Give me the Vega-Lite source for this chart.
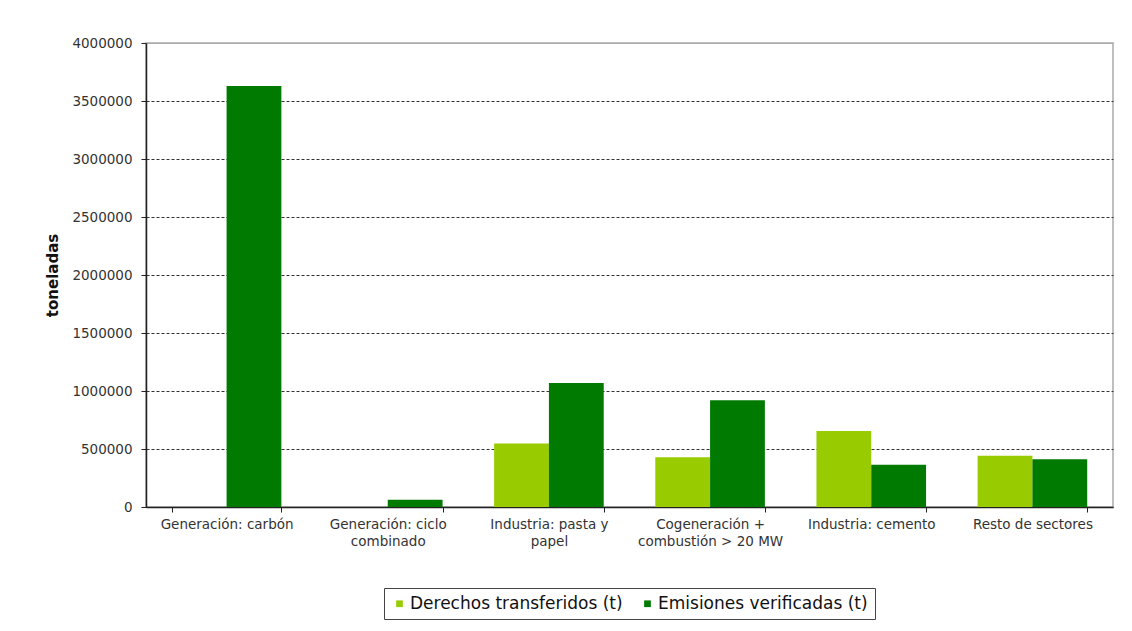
{
  "$schema": "https://vega.github.io/schema/vega-lite/v6.json",
  "width": 967,
  "height": 464,
  "autosize": {"type": "none"},
  "padding": {"left": 146, "top": 43, "right": 19, "bottom": 124},
  "background": "white",
  "data": {
    "values": [
      {"sector": "Generación: carbón", "serie": "Derechos transferidos (t)", "valor": 0},
      {"sector": "Generación: carbón", "serie": "Emisiones verificadas (t)", "valor": 3630000},
      {"sector": "Generación: ciclo|combinado", "serie": "Derechos transferidos (t)", "valor": 0},
      {"sector": "Generación: ciclo|combinado", "serie": "Emisiones verificadas (t)", "valor": 62000},
      {"sector": "Industria: pasta y|papel", "serie": "Derechos transferidos (t)", "valor": 548000},
      {"sector": "Industria: pasta y|papel", "serie": "Emisiones verificadas (t)", "valor": 1068000},
      {"sector": "Cogeneración +|combustión > 20 MW", "serie": "Derechos transferidos (t)", "valor": 428000},
      {"sector": "Cogeneración +|combustión > 20 MW", "serie": "Emisiones verificadas (t)", "valor": 920000},
      {"sector": "Industria: cemento", "serie": "Derechos transferidos (t)", "valor": 655000},
      {"sector": "Industria: cemento", "serie": "Emisiones verificadas (t)", "valor": 365000},
      {"sector": "Resto de sectores", "serie": "Derechos transferidos (t)", "valor": 442000},
      {"sector": "Resto de sectores", "serie": "Emisiones verificadas (t)", "valor": 412000}
    ]
  },
  "mark": {"type": "bar"},
  "encoding": {
    "x": {
      "field": "sector",
      "type": "nominal",
      "sort": null,
      "scale": {"paddingInner": 0.32, "paddingOuter": 0.16},
      "axis": {
        "title": null,
        "labelAngle": 0,
        "labelExpr": "split(datum.label, '|')",
        "labelFont": "DejaVu Sans",
        "labelFontSize": 13.5,
        "labelColor": "#333333",
        "labelPadding": 5,
        "labelLineHeight": 17,
        "labelLimit": 300,
        "tickBand": "extent",
        "tickColor": "#222222",
        "tickSize": 5,
        "domainColor": "#222222",
        "domainWidth": 1.5,
        "grid": false
      }
    },
    "xOffset": {"field": "serie", "type": "nominal"},
    "y": {
      "field": "valor",
      "type": "quantitative",
      "scale": {"domain": [0, 4000000], "nice": false},
      "axis": {
        "title": "toneladas",
        "titleFont": "DejaVu Sans",
        "titleFontSize": 15,
        "titleFontWeight": "bold",
        "titleColor": "#111111",
        "titlePadding": 11,
        "values": [0, 500000, 1000000, 1500000, 2000000, 2500000, 3000000, 3500000, 4000000],
        "format": "d",
        "labelFont": "DejaVu Sans",
        "labelFontSize": 13.5,
        "labelColor": "#333333",
        "labelPadding": 9,
        "tickColor": "#222222",
        "tickSize": 5,
        "domainColor": "#222222",
        "domainWidth": 1.5,
        "grid": true,
        "gridColor": {"condition": {"test": "datum.value >= 4000000", "value": "#aaaaaa"}, "value": "#333333"},
        "gridDash": {"condition": {"test": "datum.value >= 4000000", "value": []}, "value": [3, 2]},
        "gridWidth": 1
      }
    },
    "color": {
      "field": "serie",
      "type": "nominal",
      "scale": {
        "domain": ["Derechos transferidos (t)", "Emisiones verificadas (t)"],
        "range": ["#99cc00", "#007a00"]
      },
      "legend": {
        "title": null,
        "orient": "none",
        "legendX": 238,
        "legendY": 545,
        "direction": "horizontal",
        "symbolType": "square",
        "symbolSize": 45,
        "symbolStrokeWidth": 0,
        "labelFont": "DejaVu Sans",
        "labelFontSize": 17,
        "labelLimit": 400,
        "labelColor": "#111111",
        "columnPadding": 16,
        "symbolOffset": 0,
        "labelOffset": 2,
        "padding": 7,
        "strokeColor": "#444444",
        "fillColor": "white"
      }
    }
  },
  "config": {
    "view": {"stroke": "#aaaaaa", "strokeWidth": 1.5},
    "axis": {"labelOverlap": false}
  }
}
